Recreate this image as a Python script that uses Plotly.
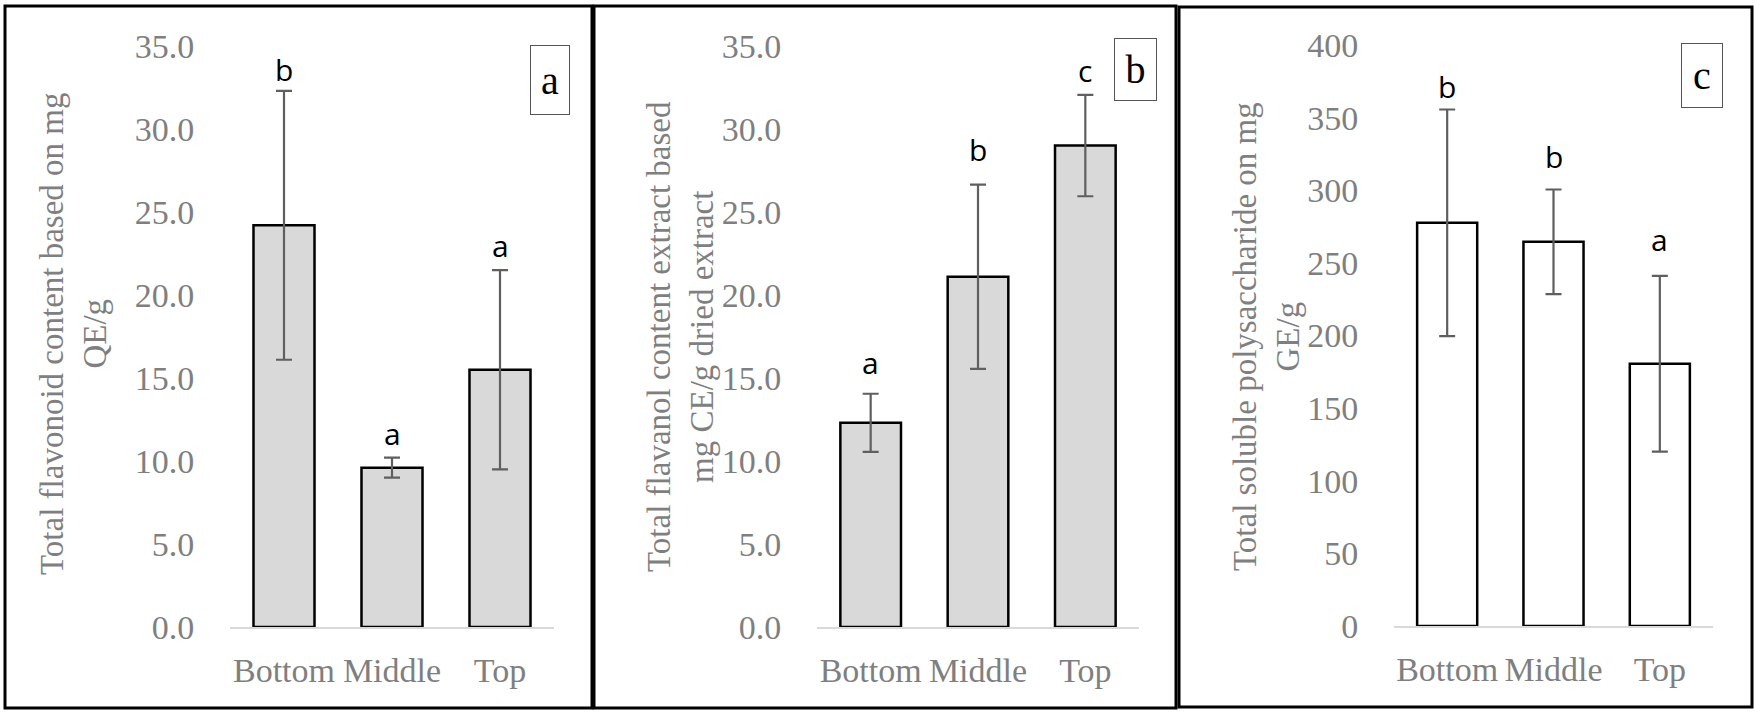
import plotly.graph_objects as go

categories = ["Bottom", "Middle", "Top"]

flavonoid_mean = [24.2, 9.6, 15.5]
flavonoid_err = [8.1, 0.6, 6.0]
flavonoid_letters = ["b", "a", "a"]

flavanol_mean = [12.3, 21.1, 29.0]
flavanol_err = [1.75, 5.55, 3.05]
flavanol_letters = ["a", "b", "c"]

polysac_mean = [277.6, 264.5, 180.5]
polysac_err = [78.0, 36.0, 60.5]
polysac_letters = ["b", "b", "a"]

titles = [
    "Total flavonoid content based on mg<br>QE/g",
    "Total flavanol content extract based<br>mg CE/g dried extract",
    "Total soluble polysaccharide on mg<br>GE/g",
]
panel_tags = ["a", "b", "c"]

W, H = 1755, 712
GRAY = "#7f7f7f"
SERIF = "Liberation Serif"

panels = [
    dict(mean=flavonoid_mean, err=flavonoid_err, letters=flavonoid_letters, fill="#d9d9d9",
         xdom=(230, 554), ydom=(627, 46), rng=[0, 35], dtick=5, fmt=".1f",
         letter_shift=[21, 24, 25],
         title_x=73, title_y=334, box=(550, 80, 38, 68), border=(5, 6, 592, 708)),
    dict(mean=flavanol_mean, err=flavanol_err, letters=flavanol_letters, fill="#d9d9d9",
         xdom=(817, 1139), ydom=(627, 46), rng=[0, 35], dtick=5, fmt=".1f",
         letter_shift=[31, 35, 24],
         title_x=680, title_y=337, box=(1135, 70, 41, 61), border=(594, 6, 1176, 708)),
    dict(mean=polysac_mean, err=polysac_err, letters=polysac_letters, fill="white",
         xdom=(1394, 1713), ydom=(626, 45), rng=[0, 400], dtick=50, fmt="d",
         letter_shift=[23, 33, 36],
         title_x=1266, title_y=337, box=(1702, 75, 40, 63), border=(1179, 7, 1752, 707)),
]

fig = go.Figure()
shapes = []
annotations = []
for i, p in enumerate(panels):
    n = "" if i == 0 else str(i + 1)
    xa, ya = "x" + n, "y" + n
    fig.add_trace(go.Bar(
        x=categories, y=p["mean"], xaxis=xa, yaxis=ya,
        marker=dict(color=p["fill"], line=dict(color="black", width=2.5)),
        error_y=dict(type="data", array=p["err"], color="#5f5f5f", thickness=2.2, width=8),
        showlegend=False,
    ))
    fig.layout["xaxis" + n] = dict(
        domain=[p["xdom"][0] / W, p["xdom"][1] / W], anchor=ya,
        showline=True, linecolor="#d9d9d9", linewidth=2, showgrid=False, zeroline=False,
        ticks="outside", ticklen=12, tickcolor="rgba(0,0,0,0)", automargin=False,
        tickfont=dict(family=SERIF, size=34, color=GRAY), fixedrange=True,
    )
    fig.layout["yaxis" + n] = dict(
        domain=[1 - p["ydom"][0] / H, 1 - p["ydom"][1] / H], anchor=xa,
        range=p["rng"], dtick=p["dtick"], tick0=0, tickformat=p["fmt"],
        showline=False, showgrid=False, zeroline=False, automargin=False,
        ticks="outside", ticklen=28, tickcolor="rgba(0,0,0,0)",
        tickfont=dict(family=SERIF, size=34, color=GRAY), fixedrange=True,
    )
    for c, m, e, L, s in zip(categories, p["mean"], p["err"], p["letters"], p["letter_shift"]):
        annotations.append(dict(
            x=c, y=m + e, xref=xa, yref=ya, text=L, showarrow=False,
            yanchor="middle", yshift=s,
            font=dict(family="Open Sans", size=30, color="black"),
        ))
    annotations.append(dict(
        x=p["title_x"] / W, y=1 - p["title_y"] / H, xref="paper", yref="paper",
        text=titles[i], textangle=-90, showarrow=False,
        xanchor="center", yanchor="middle",
        font=dict(family=SERIF, size=33, color=GRAY),
    ))
    bx, by, bw, bh = p["box"]
    annotations.append(dict(
        x=bx / W, y=1 - by / H, xref="paper", yref="paper",
        text=panel_tags[i], showarrow=False, xanchor="center", yanchor="middle",
        width=bw, height=bh, bordercolor="#555555", borderwidth=1, borderpad=0,
        font=dict(family=SERIF, size=40, color="black"),
    ))
    x0, y0, x1, y1 = p["border"]
    shapes.append(dict(
        type="rect", xref="paper", yref="paper",
        x0=x0 / W, x1=x1 / W, y0=1 - y1 / H, y1=1 - y0 / H,
        line=dict(color="black", width=3), fillcolor="rgba(0,0,0,0)",
    ))

fig.update_layout(
    template="none",
    width=W, height=H, margin=dict(l=0, r=0, t=0, b=0, pad=0), autosize=False,
    paper_bgcolor="white", plot_bgcolor="white",
    bargap=0.435, showlegend=False,
    shapes=shapes, annotations=annotations,
)

fig.write_html(
    "out.html",
    config={"displayModeBar": False},
    post_script="document.body.style.margin='0px';document.body.style.overflow='hidden';",
)
